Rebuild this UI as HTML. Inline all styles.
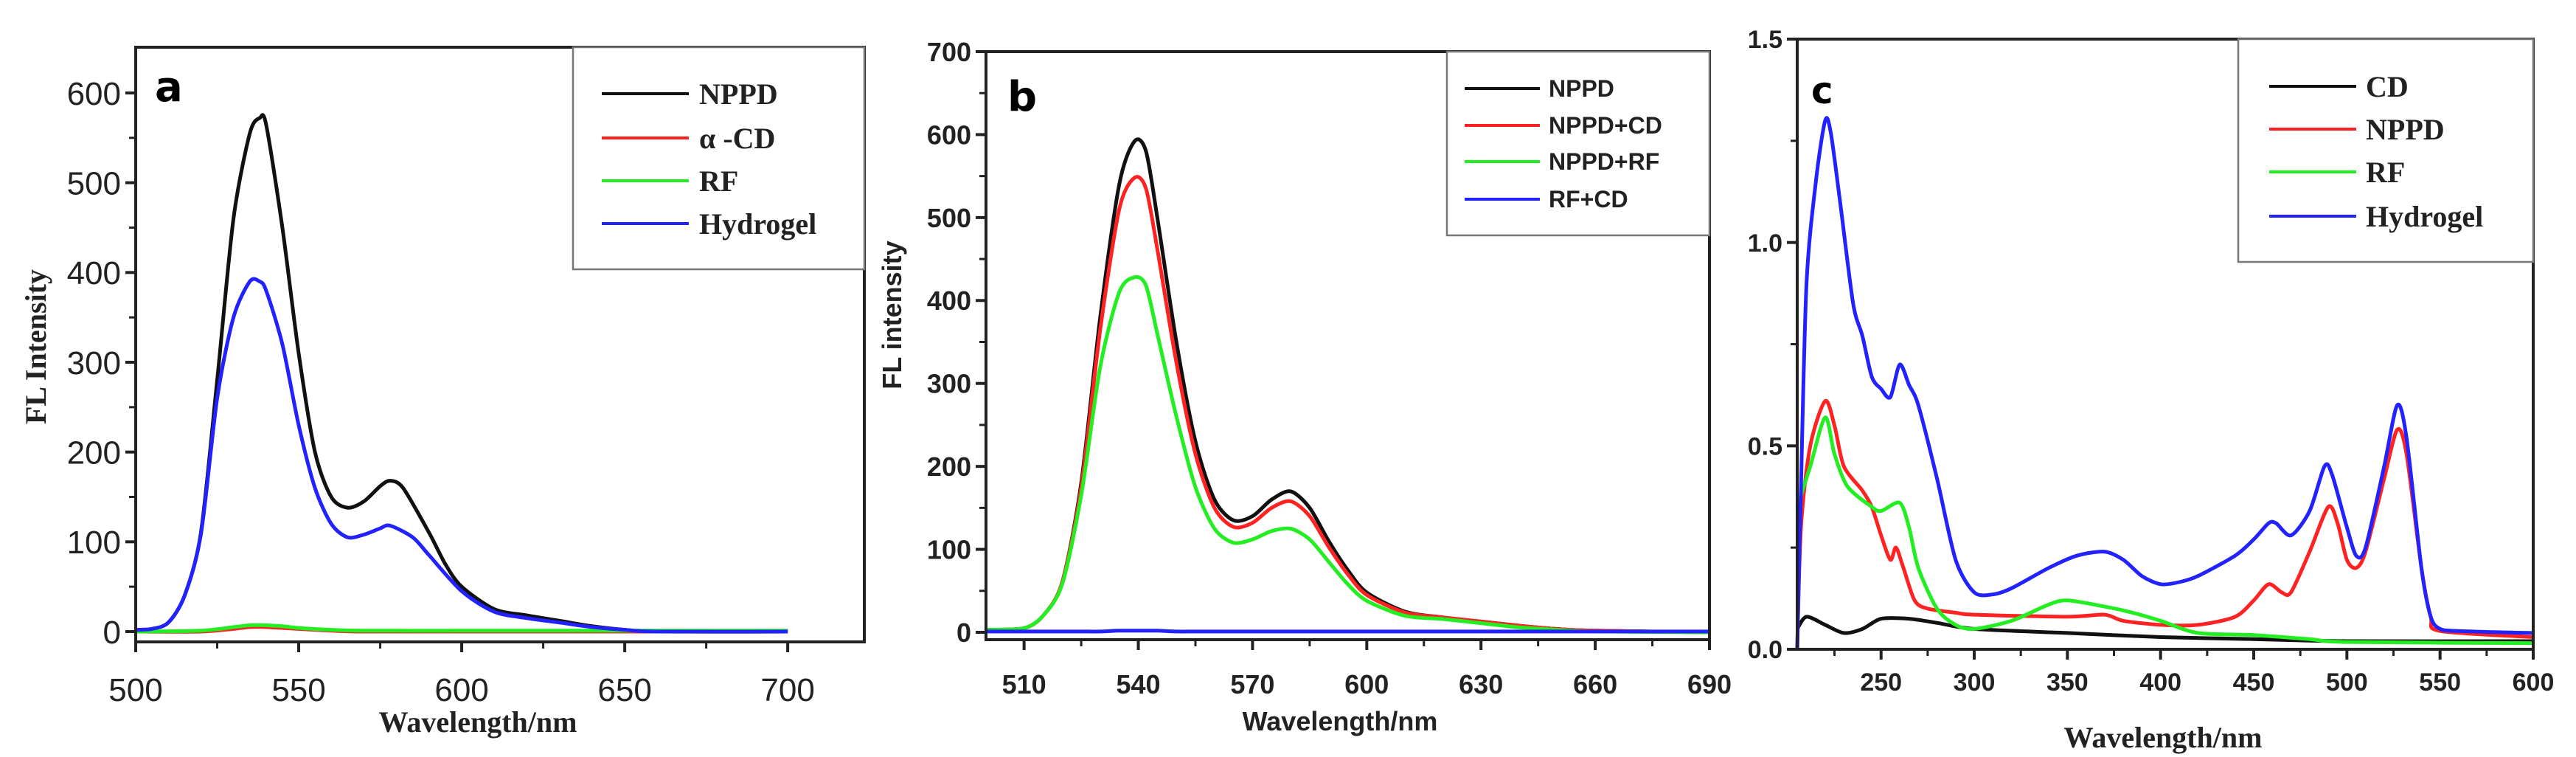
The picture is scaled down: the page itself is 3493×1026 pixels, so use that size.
<!DOCTYPE html>
<html><head><meta charset="utf-8">
<style>
html,body{margin:0;padding:0;background:#fff;}
svg{display:block;}
</style></head>
<body>
<svg id="fig" width="3493" height="1026" viewBox="0 0 3493 1026" xmlns="http://www.w3.org/2000/svg"></svg>
<script>
// ---- Panel a data ----
const aX_nppd = [500,505,510,515,520,525,530,535,538,540,545,550,555,560,565,570,575,578,582,590,595,600,610,620,630,640,650,660,700];
const aY_nppd = [2,3,10,40,110,280,460,555,572,565,450,310,200,150,138,145,162,168,160,110,75,50,25,18,12,6,2,0,0];
const aX_hyd = [500,505,510,515,520,525,530,535,538,540,545,550,555,560,565,570,575,578,585,590,600,610,620,630,640,650,660,700];
const aY_hyd = [2,3,10,40,108,260,350,390,390,380,320,230,160,120,105,108,115,118,105,85,45,22,15,10,5,2,0,0];
const aX_cd = [500,520,530,535,540,545,550,560,570,600,650,700];
const aY_cd = [0,0,3,5,5,4,3,1,0,0,0,0];
const aX_rf = [500,520,530,535,540,545,550,560,570,600,650,700];
const aY_rf = [0,1,5,7,7,6,4,2,1,1,1,1];
const aXTicks = [500,550,600,650,700];
const aYTicks = [0,100,200,300,400,500,600];

// ---- Panel b data ----
const bX_nppd = [500,510,515,520,525,530,535,539,542,545,550,555,560,565,570,575,580,585,590,595,600,610,620,630,640,650,660,690];
const bY_nppd = [3,5,20,60,180,380,540,592,580,500,350,230,160,135,140,160,170,150,110,75,48,25,18,13,8,4,2,0];
const bY_nppdcd = [3,5,20,60,175,365,510,548,535,462,325,215,150,127,132,150,158,140,103,70,45,24,18,13,8,4,2,0];
const bY_nppdrf = [3,5,20,58,165,320,410,428,418,360,260,175,125,108,112,122,125,112,85,58,38,20,16,11,6,3,1,0];
const bY_rfcd = [1,1,1,1,1,1,2,2,2,2,1,1,1,1,1,1,1,1,1,1,1,1,1,1,1,1,1,1];
const bXTicks = [510,540,570,600,630,660,690];
const bYTicks = [0,100,200,300,400,500,600,700];

// ---- Panel c data ----
const cX_hyd = [205,207,210,215,220,223,228,235,240,245,250,255,260,265,270,280,290,300,310,320,340,355,370,380,390,400,410,420,440,450,458,462,470,480,488,492,500,505,510,520,527,532,540,545,550,560,600];
const cY_hyd = [0,0.4,0.9,1.15,1.3,1.27,1.1,0.85,0.77,0.67,0.64,0.62,0.70,0.65,0.6,0.42,0.22,0.14,0.135,0.15,0.2,0.23,0.24,0.22,0.18,0.16,0.165,0.18,0.23,0.27,0.31,0.31,0.28,0.34,0.45,0.43,0.3,0.23,0.25,0.45,0.6,0.52,0.2,0.08,0.05,0.045,0.04];
const cX_nppd = [205,207,212,220,225,230,240,245,250,255,258,262,268,275,290,300,350,370,380,400,420,440,450,458,465,470,480,490,495,500,505,510,520,527,532,540,545,550,600];
const cY_nppd = [0,0.3,0.5,0.61,0.55,0.45,0.39,0.35,0.28,0.22,0.25,0.2,0.12,0.1,0.09,0.085,0.08,0.085,0.07,0.06,0.06,0.08,0.12,0.16,0.14,0.14,0.24,0.35,0.31,0.22,0.2,0.24,0.42,0.54,0.48,0.2,0.08,0.045,0.03];
const cX_rf = [205,212,220,225,232,245,250,260,265,270,280,290,300,320,340,350,370,385,400,420,450,480,500,600];
const cY_rf = [0.35,0.45,0.57,0.48,0.4,0.35,0.34,0.36,0.3,0.2,0.1,0.06,0.05,0.07,0.11,0.12,0.105,0.09,0.07,0.04,0.035,0.025,0.018,0.015];
const cX_cd = [205,210,220,230,240,250,265,280,300,350,400,450,500,600];
const cY_cd = [0.05,0.08,0.06,0.04,0.05,0.075,0.075,0.065,0.05,0.04,0.03,0.025,0.02,0.02];
const cXTicks = [250,300,350,400,450,500,550,600];
const cYTicks = [0,0.5,1.0,1.5];
const cYTickLabels = ["0.0","0.5","1.0","1.5"];

const NS = "http://www.w3.org/2000/svg";
const svg = document.getElementById('fig');
function mk(tag, attrs, parent, txt){
  const e = document.createElementNS(NS, tag);
  for (const k in attrs) e.setAttribute(k, attrs[k]);
  if (txt !== undefined) e.textContent = txt;
  (parent||svg).appendChild(e);
  return e;
}
function smoothPath(pts){
  let d = 'M' + pts[0][0].toFixed(1) + ',' + pts[0][1].toFixed(1);
  for (let i = 0; i < pts.length - 1; i++){
    const p0 = pts[Math.max(0,i-1)], p1 = pts[i], p2 = pts[i+1], p3 = pts[Math.min(pts.length-1,i+2)];
    const t = 0.14;
    const c1x = p1[0] + (p2[0]-p0[0])*t, c1y = p1[1] + (p2[1]-p0[1])*t;
    const c2x = p2[0] - (p3[0]-p1[0])*t, c2y = p2[1] - (p3[1]-p1[1])*t;
    d += ' C' + c1x.toFixed(1) + ',' + c1y.toFixed(1) + ' ' + c2x.toFixed(1) + ',' + c2y.toFixed(1) + ' ' + p2[0].toFixed(1) + ',' + p2[1].toFixed(1);
  }
  return d;
}

function panel(cfg){
  const g = mk('g', {});
  
  
  const sx = v => cfg.L + (v - cfg.x0) / (cfg.x1 - cfg.x0) * (cfg.R - cfg.L);
  const sy = v => cfg.y0px - (v - cfg.y0) / (cfg.y1 - cfg.y0) * (cfg.y0px - cfg.y1px);
  cfg.series.forEach(s => {
    const pts = s.x.map((x,i) => [sx(x), sy(s.y[i])]);
    const p = mk('path', {d: smoothPath(pts), fill:'none', stroke:s.color, 'stroke-width':5, 'stroke-linejoin':'round'}, g);
    
    
  });
  const fr = mk('rect', {x:cfg.L, y:cfg.T, width:cfg.R-cfg.L, height:cfg.B-cfg.T, fill:'none', stroke:'#222', 'stroke-width':4}, g);
  
  
  cfg.xTicks.forEach(t => {
    const x = sx(t);
    mk('line', {x1:x, y1:cfg.B, x2:x, y2:cfg.B+14, stroke:'#222', 'stroke-width':4}, g);
    const tl = mk('text', {x:x, y:cfg.xLabY, 'text-anchor':'middle', 'font-family':'Liberation Sans, sans-serif', 'font-size':cfg.tickFs, 'font-weight':cfg.tickW, fill:'#222'}, g, String(t));
    
    
  });
  cfg.xMinor.forEach(t => { const x = sx(t); mk('line', {x1:x, y1:cfg.B, x2:x, y2:cfg.B+9, stroke:'#222', 'stroke-width':3}, g); });
  cfg.yTicks.forEach((t,i) => {
    const y = sy(t);
    mk('line', {x1:cfg.L-14, y1:y, x2:cfg.L, y2:y, stroke:'#222', 'stroke-width':4}, g);
    const tl = mk('text', {x:cfg.L-20, y:y+cfg.tickFs*0.36, 'text-anchor':'end', 'font-family':'Liberation Sans, sans-serif', 'font-size':cfg.tickFs, 'font-weight':cfg.tickW, fill:'#222'}, g, cfg.yLabels ? cfg.yLabels[i] : String(t));
    
    
  });
  cfg.yMinor.forEach(t => { const y = sy(t); mk('line', {x1:cfg.L-9, y1:y, x2:cfg.L, y2:y, stroke:'#222', 'stroke-width':3}, g); });
  const xt = mk('text', {x:cfg.xTitleX, y:cfg.xTitleY, 'text-anchor':'middle', 'font-family':cfg.titleFont, 'font-size':cfg.titleFs, 'font-weight':'bold', fill:'#222'}, g, 'Wavelength/nm');
  
  
  if (cfg.yTitle){
    const yt = mk('text', {x:0, y:0, transform:'translate(' + cfg.yTitleX + ',' + cfg.yTitleY + ') rotate(-90)', 'text-anchor':'middle', 'font-family':cfg.titleFont, 'font-size':cfg.titleFs, 'font-weight':'bold', fill:'#222'}, g, cfg.yTitle);
    
    
  }
  const pl = mk('text', {x:cfg.letterX, y:cfg.letterY, 'font-family':'DejaVu Sans, Liberation Sans, sans-serif', 'font-size':cfg.letterFs, 'font-weight':'bold', fill:'#000'}, g, cfg.letter);
  
  
  const lg = mk('g', {}, g);
  
  
  mk('rect', {x:cfg.leg.x, y:cfg.T, width:cfg.R-cfg.leg.x, height:cfg.leg.b-cfg.T, fill:'#fff', stroke:'#777', 'stroke-width':2.5}, lg);
  cfg.series.forEach((s,i) => {
    const y = cfg.leg.ys[i];
    const e = mk('g', {}, lg);
    
    
    mk('line', {x1:cfg.leg.l1, y1:y, x2:cfg.leg.l2, y2:y, stroke:s.color, 'stroke-width':4}, e);
    mk('text', {x:cfg.leg.tx, y:y+cfg.leg.fs*0.35, 'font-family':cfg.leg.font, 'font-size':cfg.leg.fs, 'font-weight':'bold', fill:'#222'}, e, s.label);
  });
}

panel({name:'panel-a', L:184, R:1172, T:64, B:870, x0:500, x1:723.5, y0:0, y1:600, y0px:856, y1px:126,
  series:[{id:'nppd',label:'NPPD',color:'#111',x:aX_nppd,y:aY_nppd},
          {id:'alpha-cd',label:'α  -CD',color:'#f22',x:aX_cd,y:aY_cd},
          {id:'rf',label:'RF',color:'#2e2',x:aX_rf,y:aY_rf},
          {id:'hydrogel',label:'Hydrogel',color:'#22f',x:aX_hyd,y:aY_hyd}],
  xTicks:aXTicks, xMinor:[525,575,625,675], yTicks:aYTicks, yMinor:[50,150,250,350,450,550],
  tickFs:44, tickW:'normal', xLabY:950, titleFont:'Liberation Serif, serif', titleFs:40,
  xTitleX:648, xTitleY:992, yTitle:'FL Intensity', yTitleX:62, yTitleY:470,
  letter:'a', letterX:210, letterY:137, letterFs:56,
  leg:{x:777, b:365, ys:[127,187,245,303], l1:816, l2:934, tx:948, fs:40, font:'Liberation Serif, serif'}});

panel({name:'panel-b', L:1337, R:2318, T:70, B:867, x0:500, x1:690, y0:0, y1:700, y0px:857, y1px:70,
  series:[{id:'nppd',label:'NPPD',color:'#111',x:bX_nppd,y:bY_nppd},
          {id:'nppd-cd',label:'NPPD+CD',color:'#f22',x:bX_nppd,y:bY_nppdcd},
          {id:'nppd-rf',label:'NPPD+RF',color:'#2e2',x:bX_nppd,y:bY_nppdrf},
          {id:'rf-cd',label:'RF+CD',color:'#22f',x:bX_nppd,y:bY_rfcd}],
  xTicks:bXTicks, xMinor:[525,555,585,615,645,675], yTicks:bYTicks, yMinor:[50,150,250,350,450,550,650],
  tickFs:36, tickW:'bold', xLabY:940, titleFont:'Liberation Sans, sans-serif', titleFs:36,
  xTitleX:1817, xTitleY:990, yTitle:'FL intensity', yTitleX:1222, yTitleY:427,
  letter:'b', letterX:1366, letterY:150, letterFs:56,
  leg:{x:1962, b:319, ys:[120,170,219,270], l1:1986, l2:2088, tx:2100, fs:32, font:'Liberation Sans, sans-serif'}});

panel({name:'panel-c', L:2437, R:3435, T:53, B:880, x0:205, x1:600, y0:0, y1:1.5, y0px:880, y1px:53,
  series:[{id:'cd',label:'CD',color:'#111',x:cX_cd,y:cY_cd},
          {id:'nppd',label:'NPPD',color:'#f22',x:cX_nppd,y:cY_nppd},
          {id:'rf',label:'RF',color:'#2e2',x:cX_rf,y:cY_rf},
          {id:'hydrogel',label:'Hydrogel',color:'#22f',x:cX_hyd,y:cY_hyd}],
  xTicks:cXTicks, xMinor:[225,275,325,375,425,475,525,575], yTicks:cYTicks, yLabels:cYTickLabels, yMinor:[0.25,0.75,1.25],
  tickFs:34, tickW:'bold', xLabY:936, titleFont:'Liberation Serif, serif', titleFs:40,
  xTitleX:2933, xTitleY:1013, yTitle:null,
  letter:'c', letterX:2456, letterY:140, letterFs:50,
  leg:{x:3035, b:355, ys:[117,175,233,293], l1:3077, l2:3195, tx:3208, fs:40, font:'Liberation Serif, serif'}});
</script>
</body></html>
